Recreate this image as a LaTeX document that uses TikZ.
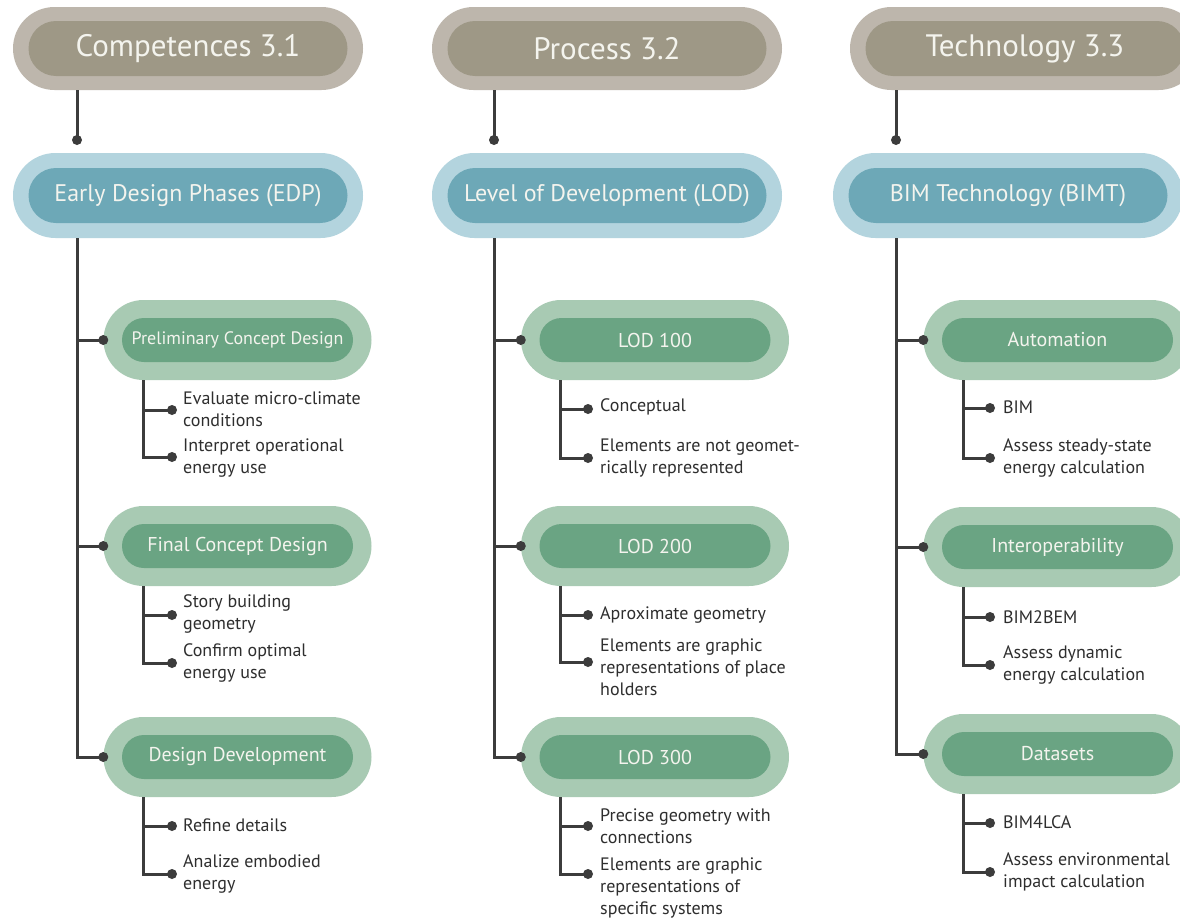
\documentclass[tikz,border=0pt]{standalone}
\usepackage{fontspec}
\setmainfont{PT Sans}
\usetikzlibrary{shapes.misc}
\definecolor{hout}{HTML}{BDB6AC}
\definecolor{hin}{HTML}{9E9886}
\definecolor{bout}{HTML}{B3D4DE}
\definecolor{bin}{HTML}{6DA8B7}
\definecolor{gout}{HTML}{A8CAB3}
\definecolor{gin}{HTML}{6AA483}
\definecolor{lin}{HTML}{3C3C3C}
\definecolor{ptxt}{HTML}{F4F4EE}
\definecolor{itxt}{HTML}{2E2E2E}
\tikzset{
  pillshape/.style={rounded rectangle, inner sep=0pt, draw=none},
  hdrout/.style={pillshape, fill=hout, minimum width=350pt, minimum height=83pt},
  hdrin/.style={pillshape, fill=hin, minimum width=319pt, minimum height=55pt, text=ptxt, font=\fontsize{31}{36}\selectfont},
  secout/.style={pillshape, fill=bout, minimum width=350pt, minimum height=85pt},
  secin/.style={pillshape, fill=bin, minimum width=319pt, minimum height=55pt, text=ptxt, font=\fontsize{24}{28}\selectfont},
  subout/.style={pillshape, fill=gout, minimum width=268pt, minimum height=80pt},
  subin/.style={pillshape, fill=gin, minimum width=231pt, minimum height=44pt, text=ptxt, font=\fontsize{20}{24}\selectfont},
  conn/.style={draw=lin, line width=3pt},
  dotmark/.style={fill=lin},
  item/.style={anchor=west, inner sep=0pt, align=left, text=itxt, font=\fontsize{18}{22}\selectfont}
}
\begin{document}
\begin{tikzpicture}[x=1pt,y=-1pt]
\fill[white] (0,0) rectangle (1180,921);
\useasboundingbox (0,0) rectangle (1180,921);
\clip (0,0) rectangle (1180,921);

% ---------- column 1 ----------
\node[hdrout] (h1) at (188,48.5) {};
\node[hdrin] (h1i) at (h1) {Competences 3.1};
\node[secout] (e1) at (188,195.5) {};
\node[secin] (e1i) at (e1) {Early Design Phases (EDP)};
\coordinate (c1) at (77,0);
\coordinate (d1) at (77,140);
\draw[conn] (c1 |- h1.south) -- (d1);
\fill[dotmark] (d1) circle[radius=5pt];

\node[subout] (s11) at (237.5,340) {};
\node[subin, font=\fontsize{18}{21}\selectfont] (s11i) at (s11) {Preliminary Concept Design};
\node[subout] (s12) at (237.5,546) {};
\node[subin] (s12i) at (s12) {Final Concept Design};
\node[subout] (s13) at (237.5,757) {};
\node[subin] (s13i) at (s13) {Design Development};
\draw[conn] (c1 |- e1.south) |- (s13.west);
\draw[conn] (c1 |- s11.west) -- (s11.west);
\draw[conn] (c1 |- s12.west) -- (s12.west);
\foreach \n in {s11,s12,s13} \fill[dotmark] (\n.west) circle[radius=5pt];

\coordinate (v1) at (143,0);
% items under s11
\coordinate (a111) at (172,410);
\coordinate (a112) at (172,457);
\node[item] (t111) at (183,409) {Evaluate micro-climate\\conditions};
\node[item] (t112) at (183,458) {Interpret operational\\energy use};
\draw[conn] (v1 |- s11.south) |- (a112);
\draw[conn] (v1 |- a111) -- (a111);
% items under s12
\coordinate (a121) at (172,615);
\coordinate (a122) at (172,663);
\node[item] (t121) at (183,614) {Story building\\geometry};
\node[item] (t122) at (183,663) {Confirm optimal\\energy use};
\draw[conn] (v1 |- s12.south) |- (a122);
\draw[conn] (v1 |- a121) -- (a121);
% items under s13
\coordinate (a131) at (172,826);
\coordinate (a132) at (172,874);
\node[item] (t131) at (183,825) {Refine details};
\node[item] (t132) at (183,874) {Analize embodied\\energy};
\draw[conn] (v1 |- s13.south) |- (a132);
\draw[conn] (v1 |- a131) -- (a131);
\foreach \c in {a111,a112,a121,a122,a131,a132} \fill[dotmark] (\c) circle[radius=5pt];

% ---------- column 2 ----------
\node[hdrout] (h2) at (607,48.5) {};
\node[hdrin] (h2i) at (h2) {Process 3.2};
\node[secout] (e2) at (607,195.5) {};
\node[secin] (e2i) at (e2) {Level of Development (LOD)};
\coordinate (c2) at (494,0);
\coordinate (d2) at (494,140);
\draw[conn] (c2 |- h2.south) -- (d2);
\fill[dotmark] (d2) circle[radius=5pt];

\node[subout] (s21) at (655,340) {};
\node[subin] (s21i) at (s21) {LOD 100};
\node[subout] (s22) at (655,546) {};
\node[subin] (s22i) at (s22) {LOD 200};
\node[subout] (s23) at (655,757) {};
\node[subin] (s23i) at (s23) {LOD 300};
\draw[conn] (c2 |- e2.south) |- (s23.west);
\draw[conn] (c2 |- s21.west) -- (s21.west);
\draw[conn] (c2 |- s22.west) -- (s22.west);
\foreach \n in {s21,s22,s23} \fill[dotmark] (\n.west) circle[radius=5pt];

\coordinate (v2) at (560,0);
\coordinate (a211) at (588,409);
\coordinate (a212) at (588,458);
\node[item] (t211) at (600,407) {Conceptual};
\node[item] (t212) at (600,458) {Elements are not geomet-\\rically represented};
\draw[conn] (v2 |- s21.south) |- (a212);
\draw[conn] (v2 |- a211) -- (a211);
\coordinate (a221) at (588,615);
\coordinate (a222) at (588,662);
\node[item] (t221) at (600,615) {Aproximate geometry};
\node[item] (t222) at (600,667) {Elements are graphic\\representations of place\\holders};
\draw[conn] (v2 |- s22.south) |- (a222);
\draw[conn] (v2 |- a221) -- (a221);
\coordinate (a231) at (588,826);
\coordinate (a232) at (588,874);
\node[item] (t231) at (600,826) {Precise geometry with\\connections};
\node[item] (t232) at (600,888) {Elements are graphic\\representations of\\specific systems};
\draw[conn] (v2 |- s23.south) |- (a232);
\draw[conn] (v2 |- a231) -- (a231);
\foreach \c in {a211,a212,a221,a222,a231,a232} \fill[dotmark] (\c) circle[radius=5pt];

% ---------- column 3 ----------
\node[hdrout] (h3) at (1025,48.5) {};
\node[hdrin] (h3i) at (h3) {Technology 3.3};
\node[secout] (e3) at (1008,195.5) {};
\node[secin] (e3i) at (e3) {BIM Technology (BIMT)};
\coordinate (c3) at (896,0);
\coordinate (d3) at (896,140);
\draw[conn] (c3 |- h3.south) -- (d3);
\fill[dotmark] (d3) circle[radius=5pt];

\node[subout] (s31) at (1057.5,340) {};
\node[subin] (s31i) at (s31) {Automation};
\node[subout] (s32) at (1057.5,547) {};
\node[subin] (s32i) at (s32) {Interoperability};
\node[subout] (s33) at (1057.5,754) {};
\node[subin] (s33i) at (s33) {Datasets};
\draw[conn] (c3 |- e3.south) |- (s33.west);
\draw[conn] (c3 |- s31.west) -- (s31.west);
\draw[conn] (c3 |- s32.west) -- (s32.west);
\foreach \n in {s31,s32,s33} \fill[dotmark] (\n.west) circle[radius=5pt];

\coordinate (v3) at (963,0);
\coordinate (a311) at (990,408);
\coordinate (a312) at (990,458);
\node[item] (t311) at (1003,407) {BIM};
\node[item] (t312) at (1003,458) {Assess steady-state\\energy calculation};
\draw[conn] (v3 |- s31.south) |- (a312);
\draw[conn] (v3 |- a311) -- (a311);
\coordinate (a321) at (990,617);
\coordinate (a322) at (990,665);
\node[item] (t321) at (1003,617) {BIM2BEM};
\node[item] (t322) at (1003,665) {Assess dynamic\\energy calculation};
\draw[conn] (v3 |- s32.south) |- (a322);
\draw[conn] (v3 |- a321) -- (a321);
\coordinate (a331) at (990,823);
\coordinate (a332) at (990,872);
\node[item] (t331) at (1003,822) {BIM4LCA};
\node[item] (t332) at (1003,872) {Assess environmental\\impact calculation};
\draw[conn] (v3 |- s33.south) |- (a332);
\draw[conn] (v3 |- a331) -- (a331);
\foreach \c in {a311,a312,a321,a322,a331,a332} \fill[dotmark] (\c) circle[radius=5pt];
\end{tikzpicture}
\end{document}
